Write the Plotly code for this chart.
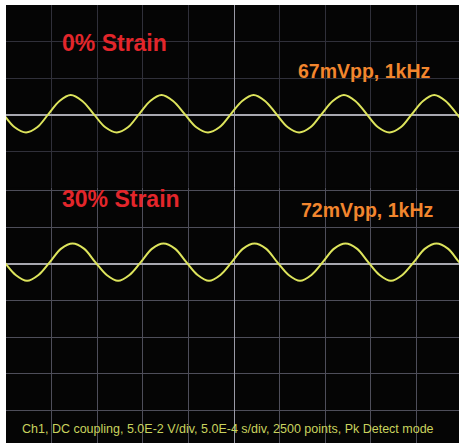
import plotly.graph_objects as go

# ---- data (time in ms relative to trigger, voltage in mV) ----
t_top = [-2.78, -2.655, -2.53, -2.405, -2.28, -2.158, -2.035, -1.913, -1.79, -1.664,
         -1.538, -1.411, -1.285, -1.163, -1.04, -0.918, -0.795, -0.668, -0.54, -0.413,
         -0.285, -0.16, -0.035, 0.09, 0.215, 0.34, 0.465, 0.59, 0.715, 0.838,
         0.96, 1.083, 1.205, 1.33, 1.455, 1.58, 1.705, 1.828, 1.95, 2.073,
         2.195, 2.32, 2.445, 2.57, 2.695]
v_top = [27, 19, 1, -17, -24, -17, 1, 19, 27, 19,
         1, -17, -24, -17, 1, 19, 27, 19, 1, -17,
         -24, -17, 1, 19, 27, 19, 1, -17, -24, -17,
         1, 19, 27, 19, 1, -17, -24, -17, 1, 19,
         27, 19, 1, -17, -24]

t_bot = [-2.768, -2.643, -2.518, -2.394, -2.269, -2.144, -2.020, -1.895, -1.77, -1.645,
         -1.521, -1.396, -1.271, -1.146, -1.022, -0.897, -0.773, -0.648, -0.523, -0.399,
         -0.274, -0.149, -0.025, 0.100, 0.225, 0.350, 0.474, 0.599, 0.724, 0.849,
         0.973, 1.098, 1.223, 1.347, 1.472, 1.596, 1.721, 1.846, 1.971, 2.095,
         2.22, 2.345, 2.469, 2.594, 2.719]
v_bot = [28, 21, 2.5, -15, -23, -15, 2.5, 21, 28, 21,
         2.5, -15, -23, -15, 2.5, 21, 28, 21, 2.5, -15,
         -23, -15, 2.5, 21, 28, 21, 2.5, -15, -23, -15,
         2.5, 21, 28, 21, 2.5, -15, -23, -15, 2.5, 21,
         28, 21, 2.5, -15, -23]

label_top = "0% Strain"
label_bot = "30% Strain"
meas_top = "67mVpp, 1kHz"
meas_bot = "72mVpp, 1kHz"
footer = "Ch1, DC coupling, 5.0E-2 V/div, 5.0E-4 s/div, 2500 points, Pk Detect mode"

WAVE = "#dde45c"
FONT = "Liberation Sans, Arial, sans-serif"

fig = go.Figure()
fig.add_trace(go.Scatter(x=t_top, y=v_top, mode="lines", xaxis="x", yaxis="y",
                         line=dict(color=WAVE, width=2, shape="spline"), hoverinfo="skip"))
fig.add_trace(go.Scatter(x=t_bot, y=v_bot, mode="lines", xaxis="x2", yaxis="y2",
                         line=dict(color=WAVE, width=2, shape="spline"), hoverinfo="skip"))

common_x = dict(range=[-2.5, 2.467], tick0=0, dtick=0.5, showticklabels=False, ticks="",
                showline=False, zeroline=True, zerolinecolor="#9a9aa6", zerolinewidth=1,
                gridwidth=1, fixedrange=True)
common_y = dict(tick0=0, dtick=50, showticklabels=False, ticks="", showline=False,
                zeroline=True, zerolinecolor="#a8a8b0", zerolinewidth=1.5, gridwidth=1,
                fixedrange=True)

fig.update_layout(
    width=459, height=443,
    margin=dict(l=6, r=0, t=5, b=0),
    paper_bgcolor="white", plot_bgcolor="#050505",
    showlegend=False,
    xaxis=dict(common_x, anchor="y", domain=[0, 1], gridcolor="#30303a"),
    yaxis=dict(common_y, anchor="x", domain=[0.582, 1], range=[-100, 150], gridcolor="#30303a"),
    xaxis2=dict(common_x, anchor="y2", domain=[0, 1], matches="x", gridcolor="#4e4e5a"),
    yaxis2=dict(common_y, anchor="x2", domain=[0, 0.5825], range=[-244.5, 104], gridcolor="#4e4e5a"),
)

fig.add_annotation(x=-1.305, y=98, xref="x", yref="y", text=label_top, showarrow=False,
                   font=dict(family=FONT, size=23, color="#e3262b", weight="bold"))
fig.add_annotation(x=1.42, y=60, xref="x", yref="y", text=meas_top, showarrow=False,
                   font=dict(family=FONT, size=19.5, color="#f2862e", weight="bold"))
fig.add_annotation(x=-1.239, y=89, xref="x2", yref="y2", text=label_bot, showarrow=False,
                   font=dict(family=FONT, size=23, color="#e3262b", weight="bold"))
fig.add_annotation(x=1.458, y=74, xref="x2", yref="y2", text=meas_bot, showarrow=False,
                   font=dict(family=FONT, size=19.5, color="#f2862e", weight="bold"))
fig.add_annotation(x=-0.071, y=-226, xref="x2", yref="y2", text=footer, showarrow=False,
                   font=dict(family=FONT, size=12.5, color="#c9d35e"))

fig.write_html("out.html", config={"displayModeBar": False, "staticPlot": True},
               post_script="document.body.style.margin='0';document.body.style.overflow='hidden';")
